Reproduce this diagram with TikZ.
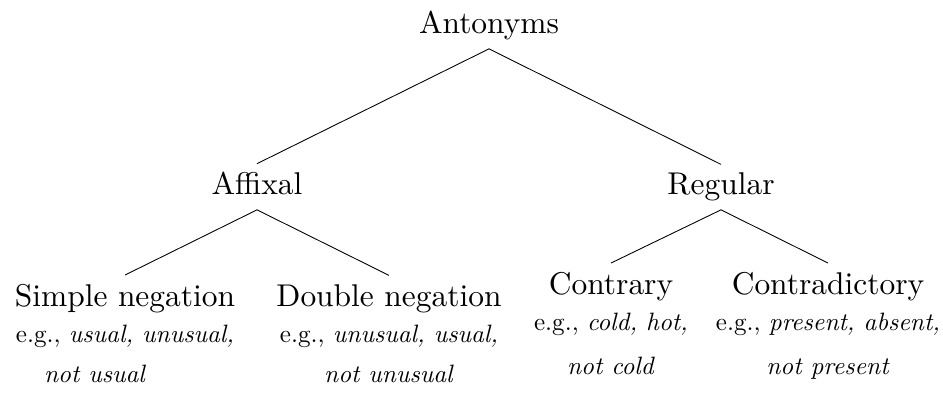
\documentclass[tikz,border=0pt]{standalone}
\usepackage{fontspec}
\IfFontExistsTF{lmroman10-regular.otf}{%
  \setmainfont{lmroman10-regular}[Extension=.otf, ItalicFont=lmroman10-italic]}{}
\usepackage{tikz}
\usetikzlibrary{positioning}

\begin{document}
\begin{tikzpicture}[
        catnode/.style={font=\fontsize{17.9}{21.5}\selectfont, inner sep=4.8pt, anchor=base},
        splitnode/.style={catnode, text depth=3.45pt},
        exnode/.style={font=\fontsize{14.3}{22.7}\selectfont, inner sep=0pt, align=center},
        branch/.style={line width=0.5pt}]
            \useasboundingbox (0,0) rectangle (18.86,7.88);

            \node[splitnode] (antonyms) at (9.78,7.20) {Antonyms};
            \node[splitnode] (affixal) at (5.14,3.98) {Affixal};
            \node[splitnode] (regular) at (14.42,3.98) {Regular};

            \node[catnode] (simple) at (2.50,1.76) {Simple negation};
            \node[catnode] (double) at (7.78,1.76) {Double negation};
            \node[catnode] (contrary) at (12.22,2.00) {Contrary};
            \node[catnode] (contradictory) at (16.56,2.00) {Contradictory};

            \node[exnode, below=0.38cm of simple.base] (simpleex)
                {e.g., \textit{usual, unusual,}\\ \hspace*{-34pt}\textit{not usual}};
            \node[exnode, below=0.38cm of double.base] (doubleex)
                {e.g., \textit{unusual, usual,}\\ \textit{not unusual}};
            \node[exnode, below=0.38cm of contrary.base] (contraryex)
                {e.g., \textit{cold, hot,}\\[2.3pt] \textit{not cold}};
            \node[exnode, below=0.38cm of contradictory.base] (contradictoryex)
                {e.g., \textit{present, absent,}\\[2.3pt] \textit{not present}};

            \draw[branch] (antonyms.south) -- (affixal.north);
            \draw[branch] (antonyms.south) -- (regular.north);
            \draw[branch] (affixal.south) -- (simple.north);
            \draw[branch] (affixal.south) -- (double.north);
            \draw[branch] (regular.south) -- (contrary.north);
            \draw[branch] (regular.south) -- (contradictory.north);
        \end{tikzpicture}
\end{document}
